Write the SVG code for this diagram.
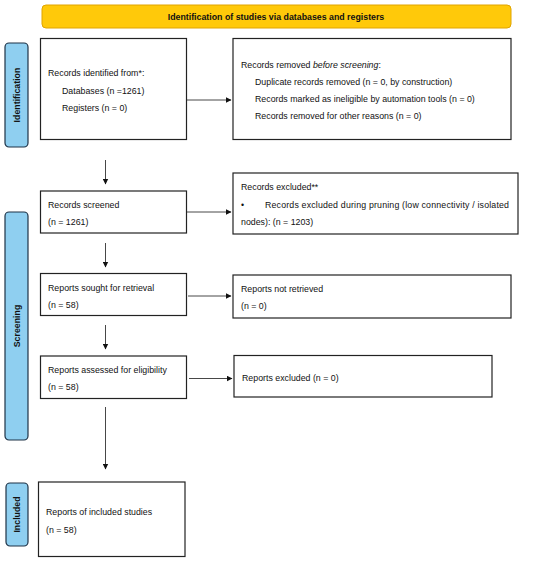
<svg xmlns="http://www.w3.org/2000/svg" width="550" height="563" viewBox="0 0 550 563">
<style>
.box{fill:#fff;stroke:#222;stroke-width:1.2}
.side{fill:#8fcff0;stroke:#1e3246;stroke-width:1.2}
.t{font-family:"Liberation Sans",Arial,sans-serif;font-size:8.8px;fill:#111}
.b{font-family:"Liberation Sans",Arial,sans-serif;font-size:8.8px;font-weight:bold;fill:#111}
.c{stroke:#333;stroke-width:0.9;fill:none}
</style>
<defs>
<marker id="ah" markerWidth="6" markerHeight="6" refX="5" refY="3" orient="auto" markerUnits="userSpaceOnUse">
<path d="M0,0.3 L5.5,3 L0,5.7 Z" fill="#111"/>
</marker>
</defs>
<rect width="550" height="563" fill="#fff"/>
<g id="banner">
<rect x="42" y="5" width="469" height="23" rx="4" fill="#ffc90a" stroke="#e0a400" stroke-width="1"/>
<text class="b" x="276" y="19.5" text-anchor="middle">Identification of studies via databases and registers</text>
</g>
<g id="side-identification">
<rect class="side" x="5" y="43" width="23" height="104" rx="4"/>
<text class="b" transform="translate(19.5,95) rotate(-90)" text-anchor="middle">Identification</text>
</g>
<g id="side-screening">
<rect class="side" x="5" y="212" width="23" height="228" rx="4"/>
<text class="b" transform="translate(19.5,326) rotate(-90)" text-anchor="middle">Screening</text>
</g>
<g id="side-included">
<rect class="side" x="6" y="483" width="22" height="63" rx="4"/>
<text class="b" transform="translate(19.5,514.5) rotate(-90)" text-anchor="middle">Included</text>
</g>
<g id="identified">
<rect class="box" x="40.5" y="38.5" width="146" height="101"/>
<text class="t" x="48" y="76">Records identified from*:</text>
<text class="t" x="62" y="93.5">Databases (n =1261)</text>
<text class="t" x="62" y="110.5">Registers (n = 0)</text>
</g>
<g id="removed">
<rect class="box" x="233" y="38.5" width="278" height="101"/>
<text class="t" x="241" y="67.5">Records removed <tspan font-style="italic">before screening</tspan>:</text>
<text class="t" x="255" y="84.5">Duplicate records removed (n = 0, by construction)</text>
<text class="t" x="255" y="102">Records marked as ineligible by automation tools (n = 0)</text>
<text class="t" x="255" y="119">Records removed for other reasons (n = 0)</text>
</g>
<g id="screened">
<rect class="box" x="40.5" y="191" width="146" height="42"/>
<text class="t" x="48" y="207.5">Records screened</text>
<text class="t" x="48" y="225">(n = 1261)</text>
</g>
<g id="excluded">
<rect class="box" x="233" y="173" width="285" height="61"/>
<text class="t" x="241" y="190">Records excluded**</text>
<text class="t" x="241" y="207.5">•</text>
<text class="t" x="265" y="207.5" textLength="244" lengthAdjust="spacing">Records excluded during pruning (low connectivity / isolated</text>
<text class="t" x="241" y="225">nodes): (n = 1203)</text>
</g>
<g id="sought">
<rect class="box" x="40.5" y="273.5" width="146" height="42"/>
<text class="t" x="48" y="290.5">Reports sought for retrieval</text>
<text class="t" x="48" y="308">(n = 58)</text>
</g>
<g id="notretrieved">
<rect class="box" x="233" y="275" width="278" height="43"/>
<text class="t" x="241" y="291.5">Reports not retrieved</text>
<text class="t" x="241" y="308.5">(n = 0)</text>
</g>
<g id="assessed">
<rect class="box" x="40.5" y="356" width="146" height="42.5"/>
<text class="t" x="48" y="372.5">Reports assessed for eligibility</text>
<text class="t" x="48" y="390">(n = 58)</text>
</g>
<g id="reportsexcluded">
<rect class="box" x="234" y="355.5" width="258" height="41.5"/>
<text class="t" x="242" y="380.5">Reports excluded (n = 0)</text>
</g>
<g id="included">
<rect class="box" x="38.5" y="482" width="146.5" height="74.5"/>
<text class="t" x="46" y="515">Reports of included studies</text>
<text class="t" x="46" y="532.5">(n = 58)</text>
</g>
<g id="connectors">
<line class="c" x1="187" y1="100" x2="231" y2="100" marker-end="url(#ah)"/>
<line class="c" x1="105.5" y1="160" x2="105.5" y2="184" marker-end="url(#ah)"/>
<line class="c" x1="187" y1="212" x2="231" y2="212" marker-end="url(#ah)"/>
<line class="c" x1="105.5" y1="243" x2="105.5" y2="267" marker-end="url(#ah)"/>
<line class="c" x1="188" y1="296" x2="231" y2="296" marker-end="url(#ah)"/>
<line class="c" x1="105.5" y1="325" x2="105.5" y2="349" marker-end="url(#ah)"/>
<line class="c" x1="189" y1="378.5" x2="232" y2="378.5" marker-end="url(#ah)"/>
<line class="c" x1="105.5" y1="407" x2="105.5" y2="469" marker-end="url(#ah)"/>
</g>
</svg>
